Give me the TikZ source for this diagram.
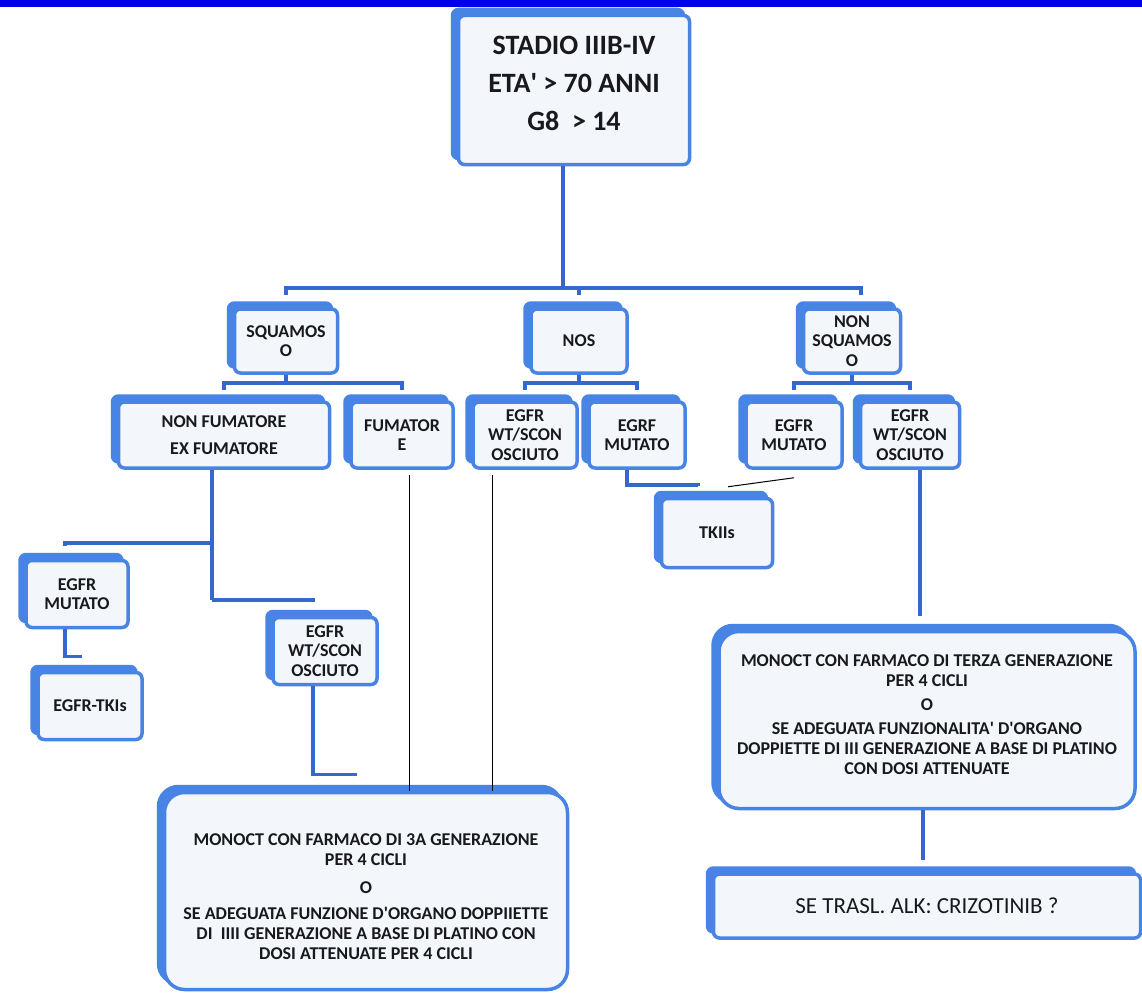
\documentclass[tikz,border=0pt]{standalone}
\usepackage{fontspec}
\setmainfont{Carlito}
\usetikzlibrary{shadows}
\definecolor{cardblue}{RGB}{72,132,228}
\definecolor{linkblue}{RGB}{52,104,206}
\definecolor{cardfill}{RGB}{243,247,252}
\definecolor{barblue}{RGB}{0,0,232}
\definecolor{inktext}{RGB}{24,24,30}
\begin{document}
\begin{tikzpicture}[x=1pt,y=-1pt]
  \tikzstyle{card}=[draw=cardblue,line width=3.5pt,fill=cardfill,rounded corners=6pt,
    copy shadow={shadow xshift=-6pt,shadow yshift=6pt,fill=cardblue,draw=cardblue},
    align=center,text=inktext,inner sep=2pt,font=\bfseries\fontsize{18}{19.5}\selectfont]
  \tikzstyle{bigcard}=[card,rounded corners=20pt,font=\bfseries\fontsize{18}{20}\selectfont]
  \tikzstyle{trunk}=[draw=linkblue,line width=4.5pt]
  \tikzstyle{branch}=[draw=linkblue,line width=3.5pt]
  \tikzstyle{wire}=[draw=black,line width=1pt]

  \fill[white] (0,0) rectangle (1142,998);
  \useasboundingbox (0,0) rectangle (1142,998);
  \fill[barblue] (0,0) rectangle (1142,7);

  \node[card,minimum width=231pt,minimum height=149pt,font=\bfseries\fontsize{28}{38}\selectfont] (stadio) at (574,90) {STADIO IIIB-IV\\ETA\textquotesingle{} > 70 ANNI\\G8~~> 14\\[-24pt]};

  \node[card,minimum width=103pt,minimum height=64pt] (squam) at (286,341) {SQUAMOS\\O};
  \node[card,minimum width=96pt,minimum height=64pt] (nos) at (579,341) {NOS};
  \node[card,minimum width=97pt,minimum height=64pt] (nonsq) at (852,341) {NON\\SQUAMOS\\O};

  \coordinate (hub) at (563,288);
  \draw[trunk] (stadio.south -| hub) -- (hub);
  \draw[trunk] ([yshift=12pt]squam.north) |- (hub) -| ([xshift=9pt,yshift=12pt]nonsq.north);
  \draw[trunk] (hub) -| ([yshift=12pt]nos.north);

  \node[card,minimum width=211pt,minimum height=66pt] (nonfum) at (224,435) {NON FUMATORE\\[8pt]EX FUMATORE};
  \node[card,minimum width=102pt,minimum height=66pt] (fum) at (402,435) {FUMATOR\\E};
  \node[card,minimum width=104pt,minimum height=66pt] (noswt) at (525,435) {EGFR\\WT/SCON\\OSCIUTO};
  \node[card,minimum width=96pt,minimum height=66pt] (nosmut) at (637,435) {EGRF\\MUTATO};
  \node[card,minimum width=96pt,minimum height=66pt] (nsmut) at (794,435) {EGFR\\MUTATO};
  \node[card,minimum width=99pt,minimum height=66pt] (nswt) at (910,435) {EGFR\\WT/SCON\\OSCIUTO};

  \coordinate (sqhub) at (286,383);
  \draw[branch] (squam.south) -- (sqhub);
  \draw[branch] ([yshift=10pt]nonfum.north) |- (sqhub) -| ([yshift=10pt]fum.north);
  \coordinate (noshub) at (579,383);
  \draw[branch] (nos.south) -- (noshub);
  \draw[branch] ([yshift=10pt]noswt.north) |- (noshub) -| ([yshift=10pt]nosmut.north);
  \coordinate (nshub) at (852,383);
  \draw[branch] (nonsq.south) -- (nshub);
  \draw[branch] ([yshift=10pt]nsmut.north) |- (nshub) -| ([yshift=10pt]nswt.north);

  \node[card,minimum width=102pt,minimum height=67pt] (egfrmutl) at (77,594) {EGFR\\MUTATO};
  \node[card,minimum width=104pt,minimum height=67pt] (tkisl) at (90,706) {EGFR-TKIs};
  \node[card,minimum width=104pt,minimum height=67pt] (egfrwtl) at (325,651) {EGFR\\WT/SCON\\OSCIUTO};

  \coordinate (forka) at (212,543);
  \coordinate (forkb) at (212,600);
  \draw[branch] (nonfum.south -| forka) -- (forkb);
  \draw[branch] (forka) -| ([xshift=-12pt,yshift=13pt]egfrmutl.north);
  \draw[branch] (forkb) -| ([xshift=-12pt,yshift=14pt]egfrwtl.north);
  \draw[branch] ([xshift=-12pt]egfrmutl.south) -- ++(0,27) -| ([xshift=-10pt,yshift=13pt]tkisl.north);

  \node[bigcard,minimum width=403pt,minimum height=197pt] (mono3) at (366,891) {\mbox{}\\[4pt]MONOCT CON FARMACO DI 3A GENERAZIONE\\PER 4 CICLI\\[8pt]O\\[6pt]SE ADEGUATA FUNZIONE D\textquotesingle ORGANO DOPPIIETTE\\DI \ IIII GENERAZIONE A BASE DI PLATINO CON\\DOSI ATTENUATE PER 4 CICLI};
  \draw[branch] ([xshift=-12pt]egfrwtl.south) -- ++(0,88) -| ([xshift=-11pt,yshift=15pt]mono3.north);

  \coordinate (fumdrop) at (409,475);
  \draw[wire] (fumdrop) -- (fumdrop |- mono3.north);
  \coordinate (nosdrop) at (492,475);
  \draw[wire] (nosdrop) -- (nosdrop |- mono3.north);

  \node[card,minimum width=111pt,minimum height=69pt] (tkii) at (717,533) {TKIIs};
  \draw[branch] ([xshift=-10pt]nosmut.south) -- ++(0,15) -| ([xshift=-19pt,yshift=11pt]tkii.north);
  \draw[wire] ([yshift=-8pt]nsmut.south) -- ([xshift=11pt,yshift=10pt]tkii.north);

  \node[bigcard,minimum width=416pt,minimum height=177pt] (mono3r) at (927,720) {MONOCT CON FARMACO DI TERZA GENERAZIONE\\PER 4 CICLI\\[4pt]O\\[4pt]SE ADEGUATA FUNZIONALITA\textquotesingle{} D\textquotesingle ORGANO\\DOPPIETTE DI III GENERAZIONE A BASE DI PLATINO\\CON DOSI ATTENUATE\\[-10pt]};
  \draw[branch] ([xshift=10pt]nswt.south) -- ([xshift=-7pt,yshift=14pt]mono3r.north);

  \node[card,minimum width=427pt,minimum height=64pt,font=\fontsize{23}{26}\selectfont] (crizo) at (927,906) {SE TRASL. ALK: CRIZOTINIB ?};
  \draw[branch] ([xshift=-4pt]mono3r.south) -- ([xshift=-4pt,yshift=12pt]crizo.north);
\end{tikzpicture}
\end{document}
